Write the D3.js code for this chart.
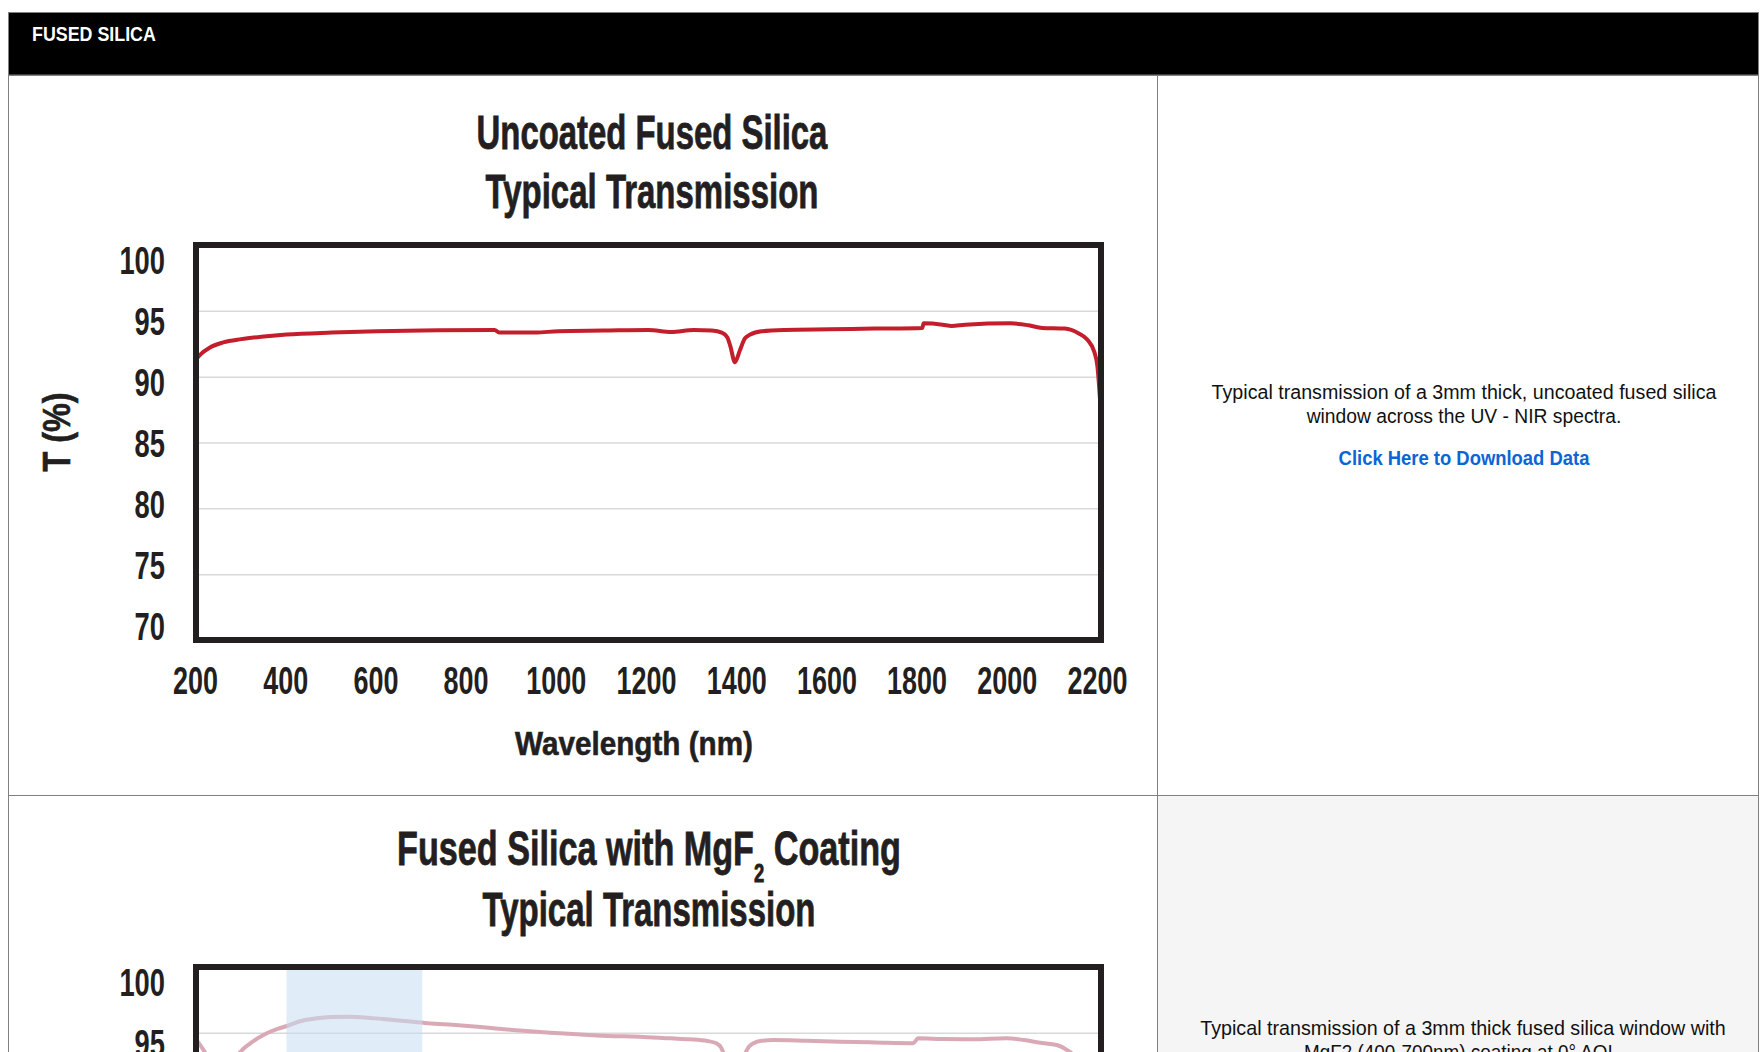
<!DOCTYPE html>
<html>
<head>
<meta charset="utf-8">
<script src="https://cdn.jsdelivr.net/npm/d3@7"></script>
<style>
  html, body { margin: 0; padding: 0; background: #fff; }
  svg { display: block; font-family: 'Liberation Sans', Arial, sans-serif; }
</style>
</head>
<body>
<svg id="page" width="1760" height="1052"></svg>
<script>
var xTicks = [200, 400, 600, 800, 1000, 1200, 1400, 1600, 1800, 2000, 2200];
var yTicks = [70, 75, 80, 85, 90, 95, 100];
var gridTicks = [75, 80, 85, 90, 95];

// uncoated 3mm window
var uncoatedNm = [200, 210, 230, 260, 300, 350, 400, 500, 600, 700, 860, 870, 950, 1000, 1100,
  1200, 1250, 1300, 1340, 1362, 1374, 1381, 1391, 1402, 1413, 1425, 1450, 1500, 1600, 1700,
  1805, 1808, 1850, 1870, 1900, 2000, 2040, 2070, 2120, 2150, 2170, 2185, 2192, 2198];
var uncoatedT = [91.3, 91.7, 92.2, 92.6, 92.85, 93.05, 93.2, 93.35, 93.45, 93.5, 93.55, 93.35, 93.35, 93.45, 93.5,
  93.55, 93.4, 93.55, 93.5, 93.35, 93.0, 92.3, 91.1, 92.0, 92.9, 93.2, 93.45, 93.55, 93.6, 93.65,
  93.7, 94.05, 93.95, 93.85, 93.95, 94.05, 93.9, 93.7, 93.65, 93.3, 92.8, 91.9, 90.8, 88.2];

// MgF2 coated window
var mgf2Nm = [200, 209, 220, 235, 250, 265, 280, 298, 320, 350, 380, 401, 430, 467, 500, 540, 580, 613, 660, 712,
  780, 835, 900, 983, 1050, 1100, 1181, 1250, 1291, 1330, 1350, 1360, 1368, 1380, 1392, 1402, 1412, 1422, 1432, 1450,
  1476, 1550, 1623, 1700, 1785, 1796, 1850, 1918, 1991, 2030, 2065, 2102, 2131, 2150, 2170, 2185, 2192, 2198];
var mgf2T = [94.5, 94.08, 93.5, 92.5, 91.9, 92.0, 92.6, 93.55, 94.2, 94.85, 95.3, 95.52, 95.88, 96.1, 96.2, 96.23, 96.15, 96.05, 95.9, 95.73,
  95.58, 95.42, 95.22, 95.01, 94.88, 94.78, 94.71, 94.58, 94.51, 94.38, 94.21, 93.9, 93.3, 92.4, 91.8, 92.3, 93.3, 93.95, 94.21, 94.4,
  94.46, 94.4, 94.33, 94.27, 94.21, 94.59, 94.53, 94.51, 94.59, 94.45, 94.25, 94.08, 93.55, 93.0, 92.4, 91.4, 90.2, 87.6];
var mgf2Band = [400, 700];

var PAGE_H = 1052;
var svg = d3.select('#page');
var INK = '#231f20';

// put text at (x, y) and squeeze it horizontally to a given width
function fitText(parent, x, y, str, width, style) {
  var t = parent.append('text')
    .attr('transform', 'translate(' + x + ',' + y + ')' + (style.rotate ? ' rotate(' + style.rotate + ')' : ''))
    .attr('text-anchor', style.anchor || 'middle')
    .attr('font-size', style.size)
    .attr('font-weight', style.weight || 'normal')
    .attr('fill', style.fill || INK)
    .text(str);
  if (style.heavy) {
    t.attr('stroke', style.fill || INK).attr('stroke-width', style.heavy);
  }
  squeeze(t, width);
  return t;
}

function squeeze(t, width) {
  var natural = t.node().getComputedTextLength();
  t.attr('transform', (t.attr('transform') || '') + ' scale(' + (width / natural) + ',1)');
}

function drawPage() {
  var borders = svg.append('g').attr('stroke', '#808080').attr('stroke-width', 1);

  svg.insert('rect', ':first-child')
    .attr('x', 1157.5).attr('y', 795.5)
    .attr('width', 601).attr('height', 300)
    .attr('fill', '#f5f5f5');

  svg.append('rect')
    .attr('x', 8.5).attr('y', 12.5)
    .attr('width', 1750).attr('height', 62.5)
    .attr('fill', '#000').attr('stroke', '#808080');

  fitText(svg, 32, 41, 'FUSED SILICA', 124, {anchor: 'start', size: 20, weight: 'bold', fill: '#fff'});

  borders.append('line').attr('x1', 8.5).attr('x2', 8.5).attr('y1', 75).attr('y2', PAGE_H);
  borders.append('line').attr('x1', 1157.5).attr('x2', 1157.5).attr('y1', 75).attr('y2', PAGE_H);
  borders.append('line').attr('x1', 1758.5).attr('x2', 1758.5).attr('y1', 12).attr('y2', PAGE_H);
  borders.append('line').attr('x1', 8).attr('x2', 1759).attr('y1', 75.5).attr('y2', 75.5);
  borders.append('line').attr('x1', 8).attr('x2', 1759).attr('y1', 795.5).attr('y2', 795.5);

  // captions in the right column
  fitText(svg, 1464, 399, 'Typical transmission of a 3mm thick, uncoated fused silica', 505, {size: 20, fill: '#111'});
  fitText(svg, 1464, 423, 'window across the UV - NIR spectra.', 315, {size: 20, fill: '#111'});
  fitText(svg, 1464, 465, 'Click Here to Download Data', 251, {size: 20, weight: 'bold', fill: '#0a66d4'});

  fitText(svg, 1463, 1035, 'Typical transmission of a 3mm thick fused silica window with', 526, {size: 20, fill: '#111'});
  fitText(svg, 1461, 1059, 'MgF2 (400-700nm) coating at 0\u00b0 AOI.', 314, {size: 20, fill: '#111'});
}

function drawTitle(g, cfg) {
  var t, i, part, shift = 0;

  t = g.append('text')
    .attr('transform', 'translate(' + cfg.titleX + ',' + cfg.titleY[0] + ')')
    .attr('text-anchor', 'middle')
    .attr('font-size', 48)
    .attr('font-weight', 'bold')
    .attr('fill', INK)
    .attr('stroke', INK)
    .attr('stroke-width', 0.8);

  for (i = 0; i < cfg.title.length; i++) {
    part = cfg.title[i];
    if (part.sub) {
      t.append('tspan').attr('font-size', 26).attr('dy', 17).text(part.text);
      shift = 17;
    } else {
      t.append('tspan').attr('dy', -shift).text(part.text);
      shift = 0;
    }
  }
  squeeze(t, cfg.titleW[0]);

  fitText(g, cfg.titleX, cfg.titleY[1], 'Typical Transmission', cfg.titleW[1], {size: 48, weight: 'bold', heavy: 0.8});
}

/**
 * One transmission plot: title, grid, curve, optional coating band,
 * heavy frame and Futura-like axis labels.
 */
function drawChart(cfg) {
  var g, x, y, xLabel, yLabel, line, pts, top = cfg.top;

  g = svg.append('g').attr('class', 'chart');

  x = d3.scaleLinear().domain([200, 2200]).range([196, 1101]);
  y = d3.scaleLinear().domain([70, 100]).range([top + 395, top]);
  xLabel = d3.scaleLinear().domain([200, 2200]).range([195, 1097]);
  yLabel = d3.scaleLinear().domain([70, 100]).range([top + 381, top + 15]);

  drawTitle(g, cfg);

  // light grid
  g.append('g')
    .attr('transform', 'translate(' + x(200) + ',0)')
    .call(d3.axisLeft(y).tickValues(gridTicks).tickSize(-(x(2200) - x(200))).tickFormat(''))
    .call(function(a) { a.select('.domain').remove(); })
    .selectAll('line')
    .attr('stroke', '#d9d9d9')
    .attr('stroke-width', 1.5);

  pts = cfg.nm.map(function(d, i) { return [d, cfg.t[i]]; });

  line = d3.line()
    .x(function(d) { return x(d[0]); })
    .y(function(d) { return y(d[1]); })
    .curve(d3.curveMonotoneX);

  g.append('path')
    .datum(pts)
    .attr('d', line)
    .attr('fill', 'none')
    .attr('stroke', cfg.color)
    .attr('stroke-width', 4)
    .attr('stroke-linejoin', 'round');

  if (cfg.band) {
    g.append('rect')
      .attr('x', x(cfg.band[0]))
      .attr('y', y(100))
      .attr('width', x(cfg.band[1]) - x(cfg.band[0]))
      .attr('height', y(70) - y(100))
      .attr('fill', '#c6ddf0')
      .attr('opacity', 0.55);
  }

  g.append('rect')
    .attr('x', x(200))
    .attr('y', y(100))
    .attr('width', x(2200) - x(200))
    .attr('height', y(70) - y(100))
    .attr('fill', 'none')
    .attr('stroke', INK)
    .attr('stroke-width', 6);

  // tick labels (only the ones that land on the page)
  g.append('g')
    .attr('transform', 'translate(165,0)')
    .call(d3.axisLeft(yLabel)
      .tickValues(yTicks.filter(function(v) { return yLabel(v) < PAGE_H + 20; }))
      .tickSize(0).tickPadding(0))
    .call(function(a) { a.select('.domain').remove(); })
    .selectAll('text')
    .attr('x', 0)
    .attr('dy', '0.36em')
    .attr('font-family', null)
    .attr('font-size', 38)
    .attr('font-weight', 'bold')
    .attr('fill', INK)
    .each(function(d) {
      var t = d3.select(this);
      t.attr('transform', 'scale(' + (String(d).length * 15.2 / this.getComputedTextLength()) + ',1)');
    });

  if (top + 449 < PAGE_H) {
    g.append('g')
      .attr('transform', 'translate(0,' + (top + 449) + ')')
      .call(d3.axisBottom(xLabel).tickValues(xTicks).tickFormat(d3.format('d')).tickSize(0).tickPadding(0))
      .call(function(a) { a.select('.domain').remove(); })
      .selectAll('text')
      .attr('y', 0)
      .attr('dy', 0)
      .attr('font-family', null)
      .attr('font-size', 38)
      .attr('font-weight', 'bold')
      .attr('fill', INK)
      .each(function(d) {
        var t = d3.select(this);
        t.attr('transform', 'scale(' + (String(d).length * 15.0 / this.getComputedTextLength()) + ',1)');
      });

    fitText(g, 634, top + 510, 'Wavelength (nm)', 238, {size: 33, weight: 'bold', heavy: 0.6});
  }

  if (top + 230 < PAGE_H) {
    fitText(g, 70, top + 187, 'T (%)', 79, {size: 39, weight: 'bold', rotate: -90, heavy: 0.6});
  }
}

drawPage();

drawChart({
  top: 245,
  title: [{text: 'Uncoated Fused Silica'}],
  titleX: 652, titleY: [149, 208], titleW: [351, 333],
  nm: uncoatedNm, t: uncoatedT,
  color: '#c41e2d'
});

drawChart({
  top: 967,
  title: [{text: 'Fused Silica with MgF'}, {text: '2', sub: true}, {text: ' Coating'}],
  titleX: 649, titleY: [865, 926], titleW: [504, 333],
  nm: mgf2Nm, t: mgf2T,
  color: '#d9aab5',
  band: mgf2Band
});
</script>
</body>
</html>
